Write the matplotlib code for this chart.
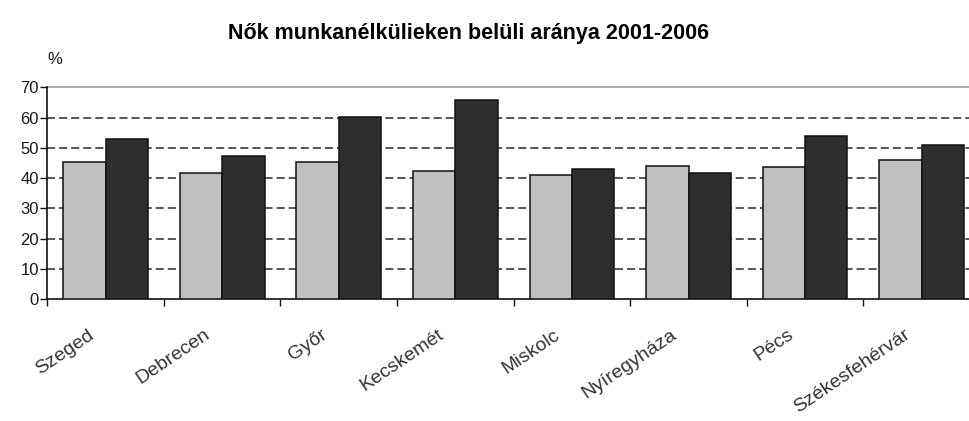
import matplotlib
matplotlib.use("Agg")
import matplotlib.pyplot as plt
from matplotlib.transforms import ScaledTranslation
import numpy as np

cities = ["Szeged", "Debrecen", "Győr", "Kecskemét", "Miskolc", "Nyíregyháza", "Pécs", "Székesfehérvár"]
series_2001 = [45.2, 41.6, 45.2, 42.2, 40.9, 44.1, 43.5, 45.9]
series_2006 = [52.9, 47.2, 60.2, 65.8, 42.9, 41.6, 54.0, 50.8]
yticks = [0, 10, 20, 30, 40, 50, 60, 70]
title = "Nők munkanélkülieken belüli aránya 2001-2006"

plt.rcParams['font.family'] = ['Liberation Sans', 'DejaVu Sans']
plt.rcParams['lines.scale_dashes'] = False

W, H = 969, 421
fig = plt.figure(figsize=(W / 100, H / 100), dpi=100)
ax = fig.add_axes([47.3 / W, 1 - 299 / H, (980 - 47.3) / W, (299 - 87.3) / H])

x = np.arange(len(cities)) + 0.5
bw = 0.363
ax.bar(x - bw / 2, series_2001, bw, color="#c0c0c0", edgecolor="#111111", linewidth=1.1, zorder=3)
ax.bar(x + bw / 2, series_2006, bw, color="#2e2e2e", edgecolor="#111111", linewidth=1.1, zorder=3)

ax.set_xlim(0, len(cities))
ax.set_ylim(0, 70)
ax.set_yticks(yticks)
ax.set_yticklabels([str(v) for v in yticks], fontsize=12, color="#1a1a1a")
for v in yticks[1:-1]:
    ax.axhline(v, color="#3a3a3a", lw=1.2, linestyle=(0, (5.8, 2.9)), zorder=1)
ax.axhline(70, color="#aaaaaa", lw=1.4, zorder=1, clip_on=False)

ax.set_xticks(np.arange(len(cities)))
ax.set_xticklabels([])
ax.tick_params(axis="x", which="major", length=5, width=1, direction="out", color="#111111")
ax.tick_params(axis="y", length=5, width=1, direction="out", pad=1, color="#111111")

label_shift = ScaledTranslation(-11 / 100, -38 / 100, fig.dpi_scale_trans)
for xc, name in zip(x, cities):
    ax.text(xc, 0, name, transform=ax.get_xaxis_transform() + label_shift,
            rotation=34, rotation_mode="anchor", ha="right", va="baseline",
            fontsize=14, color="#333333")

for s in ["top", "right"]:
    ax.spines[s].set_visible(False)
for s in ["left", "bottom"]:
    ax.spines[s].set_color("#111111")
    ax.spines[s].set_linewidth(1.2)

fig.text(55 / W, 1 - 60 / H, "%", ha="center", va="center", fontsize=12, color="#1a1a1a")
fig.text(469 / W, 1 - 33 / H, title, ha="center", va="center", fontsize=15.5, fontweight="bold", color="#000000")

fig.savefig("out.png", dpi=100)
